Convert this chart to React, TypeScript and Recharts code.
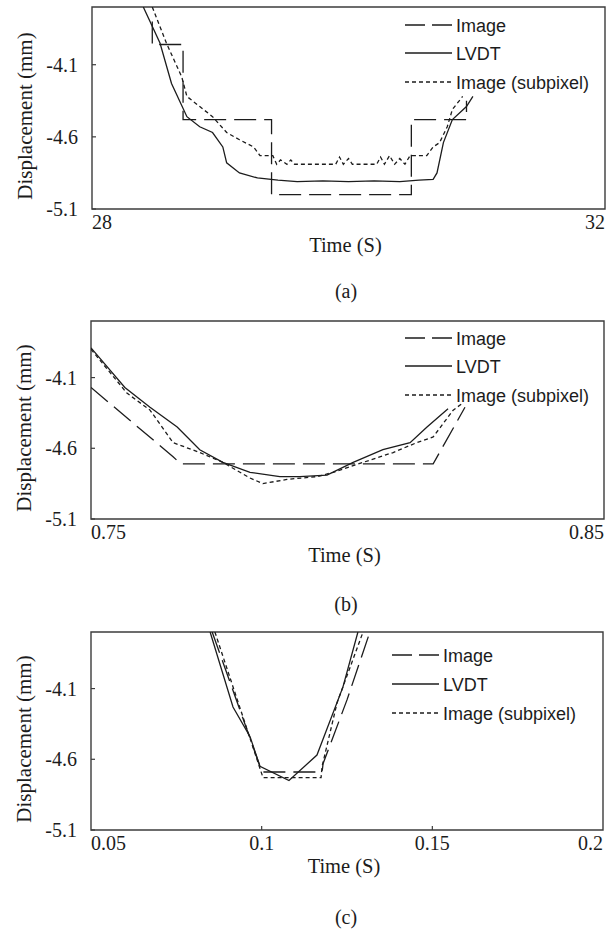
import { LineChart, Line, XAxis, YAxis, ReferenceArea } from "recharts";

// shared displacement axis
const dispDomain = [-5.1, -3.7];
const dispTicks = [-5.1, -4.6, -4.1];
const seriesNames = ["Image", "LVDT", "Image (subpixel)"];

// (a) 28 - 32 s
const aTicks = [28, 32];
const aImageT = [28.47, 28.47, 28.71, 28.71, 29.4, 29.4, 30.49, 30.49, 30.92, 30.92];
const aImageD = [-3.8, -3.96, -3.96, -4.48, -4.48, -5.0, -5.0, -4.48, -4.48, -4.35];
const aLvdtT = [28.4, 28.53, 28.62, 28.74, 28.84, 28.94, 29.02, 29.05, 29.15, 29.29, 29.45, 29.6, 29.8, 30.0, 30.2, 30.4, 30.55, 30.66, 30.69, 30.74, 30.81, 30.92, 30.97];
const aLvdtD = [-3.7, -3.95, -4.23, -4.46, -4.53, -4.57, -4.67, -4.78, -4.85, -4.885, -4.9, -4.91, -4.905, -4.91, -4.905, -4.91, -4.9, -4.895, -4.85, -4.64, -4.48, -4.39, -4.32];
const aSubT = [28.47, 28.58, 28.7, 28.74, 28.84, 28.94, 29.05, 29.15, 29.26, 29.31, 29.41, 29.44, 29.47, 29.52, 29.55, 29.58, 29.9, 29.93, 29.96, 30.0, 30.03, 30.22, 30.25, 30.28, 30.32, 30.36, 30.4, 30.44, 30.48, 30.61, 30.66, 30.71, 30.77, 30.81, 30.89];
const aSubD = [-3.7, -3.95, -4.185, -4.32, -4.39, -4.46, -4.57, -4.62, -4.67, -4.73, -4.73, -4.79, -4.76, -4.79, -4.76, -4.79, -4.79, -4.74, -4.79, -4.75, -4.79, -4.79, -4.74, -4.79, -4.73, -4.79, -4.75, -4.79, -4.73, -4.73, -4.67, -4.64, -4.53, -4.41, -4.32];

// (b) 0.75 - 0.85 s
const bTicks = [0.75, 0.85];
const bImageT = [0.75, 0.766, 0.7675, 0.8167, 0.8229];
const bImageD = [-4.17, -4.66, -4.71, -4.71, -4.31];
const bLvdtT = [0.75, 0.7566, 0.7615, 0.7668, 0.7712, 0.7757, 0.781, 0.7868, 0.7907, 0.796, 0.8011, 0.8069, 0.8122, 0.8155, 0.8196];
const bLvdtD = [-3.89, -4.17, -4.31, -4.45, -4.61, -4.7, -4.77, -4.8, -4.8, -4.79, -4.7, -4.61, -4.56, -4.45, -4.32];
const bSubT = [0.75, 0.757, 0.7615, 0.766, 0.7712, 0.7757, 0.781, 0.7835, 0.7882, 0.7941, 0.7972, 0.803, 0.8089, 0.8135, 0.8167, 0.8206, 0.8225];
const bSubD = [-3.9, -4.21, -4.33, -4.56, -4.63, -4.7, -4.81, -4.85, -4.82, -4.8, -4.77, -4.7, -4.63, -4.56, -4.52, -4.33, -4.28];

// (c) 0.05 - 0.2 s
const cTicks = [0.05, 0.1, 0.15, 0.2];
const cImageT = [0.0855, 0.1001, 0.1177, 0.118, 0.125, 0.1317];
const cImageD = [-3.7, -4.69, -4.69, -4.63, -4.18, -3.7];
const cLvdtT = [0.0849, 0.0916, 0.0966, 0.0995, 0.108, 0.1162, 0.1238, 0.1282];
const cLvdtD = [-3.7, -4.23, -4.44, -4.65, -4.75, -4.57, -4.09, -3.7];
const cSubT = [0.0863, 0.1004, 0.1174, 0.1177, 0.1221, 0.1297];
const cSubD = [-3.7, -4.73, -4.73, -4.65, -4.2, -3.7];

const zip = (t: number[], d: number[]) => t.map((v, i) => ({ t: v, d: d[i] }));

const INK = "#1c1c1c";
const FRAME = "#3c3c3c";
const SERIF = "'Liberation Serif', 'Times New Roman', serif";
const SANS = "'Liberation Sans', Arial, sans-serif";
const dashes = ["20 7", undefined, "4 3"];

function XTick(props: any) {
  const { x, y, payload, lo, hi } = props;
  const v = payload.value;
  const edge = v === lo || v === hi;
  const anchor = v === lo ? "start" : v === hi ? "end" : "middle";
  return (
    <g>
      {!edge && <line x1={x} x2={x} y1={y} y2={y - 4} stroke={FRAME} strokeWidth={1.2} />}
      <text x={x} y={y + 20} textAnchor={anchor} fontFamily={SERIF} fontSize={20} fill={INK}>
        {String(v)}
      </text>
    </g>
  );
}

function YTick(props: any) {
  const { x, y, payload } = props;
  return (
    <g>
      <line x1={x} x2={x + 4} y1={y} y2={y} stroke={FRAME} strokeWidth={1.2} />
      <text x={x - 14} y={y} dy="0.35em" textAnchor="end" fontFamily={SERIF} fontSize={20} fill={INK}>
        {String(payload.value)}
      </text>
    </g>
  );
}

type PanelProps = {
  top: number;
  plotTop: number;
  plotBottom: number;
  left: number;
  right: number;
  ticks: number[];
  image: { t: number; d: number }[];
  lvdt: { t: number; d: number }[];
  sub: { t: number; d: number }[];
  legendX: number;
  legendY: number[];
  caption: string;
  captionY: number;
};

function Panel(p: PanelProps) {
  const W = 615;
  const H = 320;
  const lo = p.ticks[0];
  const hi = p.ticks[p.ticks.length - 1];
  return (
    <div style={{ position: "absolute", left: 0, top: p.top, width: W, height: H }}>
      <LineChart
        width={W}
        height={H}
        margin={{ top: p.plotTop, right: W - p.right, bottom: H - p.plotBottom - 30, left: p.left - 60 }}
      >
        <XAxis
          type="number"
          dataKey="t"
          domain={[lo, hi]}
          ticks={p.ticks}
          interval={0}
          allowDataOverflow
          height={30}
          tickSize={0}
          tickMargin={0}
          axisLine={false}
          tickLine={false}
          tick={(tp: any) => <XTick {...tp} lo={lo} hi={hi} />}
          label={(lp: any) => {
            const vb = lp.viewBox;
            return (
              <text x={vb.x + vb.width / 2 - 3} y={vb.y + 43} textAnchor="middle" fontFamily={SERIF} fontSize={20.5} fill={INK}>
                Time (S)
              </text>
            );
          }}
        />
        <YAxis
          type="number"
          domain={dispDomain}
          ticks={dispTicks}
          interval={0}
          allowDataOverflow
          width={60}
          tickSize={0}
          tickMargin={0}
          axisLine={false}
          tickLine={false}
          tick={(tp: any) => <YTick {...tp} />}
          label={(lp: any) => {
            const vb = lp.viewBox;
            const cx = vb.x + vb.width - 67;
            const cy = vb.y + vb.height / 2 + 8;
            return (
              <text x={cx} y={cy} transform={`rotate(-90 ${cx} ${cy})`} dy="0.35em" textAnchor="middle" fontFamily={SERIF} fontSize={21} fill={INK}>
                Displacement (mm)
              </text>
            );
          }}
        />
        <ReferenceArea x1={lo} x2={hi} y1={dispDomain[0]} y2={dispDomain[1]} fill="none" fillOpacity={0} stroke={FRAME} strokeWidth={1.4} />
        <Line data={p.image} dataKey="d" type="linear" stroke={INK} strokeWidth={1.3} strokeDasharray="22 8" dot={false} isAnimationActive={false} />
        <Line data={p.lvdt} dataKey="d" type="linear" stroke={INK} strokeWidth={1.3} dot={false} isAnimationActive={false} />
        <Line data={p.sub} dataKey="d" type="linear" stroke={INK} strokeWidth={1.3} strokeDasharray="4 3" dot={false} isAnimationActive={false} />
      </LineChart>
      <svg width={W} height={H} style={{ position: "absolute", left: 0, top: 0, pointerEvents: "none" }}>
        {seriesNames.map((name, i) => (
          <g key={name}>
            <line x1={p.legendX} x2={p.legendX + 47} y1={p.legendY[i]} y2={p.legendY[i]} stroke={INK} strokeWidth={1.3} strokeDasharray={dashes[i]} />
            <text x={p.legendX + 51} y={p.legendY[i] + 6.5} fontFamily={SANS} fontSize={18} fill={INK}>
              {name}
            </text>
          </g>
        ))}
        <text x={346} y={p.captionY} textAnchor="middle" fontFamily={SERIF} fontSize={20} fill={INK}>
          {p.caption}
        </text>
      </svg>
    </div>
  );
}

export default function App() {
  return (
    <div style={{ position: "absolute", left: 0, top: 0, width: 615, height: 933, background: "#fff" }}>
      <Panel
        top={0}
        plotTop={7}
        plotBottom={209}
        left={92}
        right={605}
        ticks={aTicks}
        image={zip(aImageT, aImageD)}
        lvdt={zip(aLvdtT, aLvdtD)}
        sub={zip(aSubT, aSubD)}
        legendX={405}
        legendY={[25, 53, 82]}
        caption="(a)"
        captionY={298}
      />
      <Panel
        top={300}
        plotTop={21}
        plotBottom={219}
        left={91}
        right={604}
        ticks={bTicks}
        image={zip(bImageT, bImageD)}
        lvdt={zip(bLvdtT, bLvdtD)}
        sub={zip(bSubT, bSubD)}
        legendX={405}
        legendY={[38, 66, 95]}
        caption="(b)"
        captionY={311}
      />
      <Panel
        top={620}
        plotTop={12}
        plotBottom={210}
        left={91}
        right={603}
        ticks={cTicks}
        image={zip(cImageT, cImageD)}
        lvdt={zip(cLvdtT, cLvdtD)}
        sub={zip(cSubT, cSubD)}
        legendX={392}
        legendY={[35, 64, 93]}
        caption="(c)"
        captionY={304}
      />
    </div>
  );
}
